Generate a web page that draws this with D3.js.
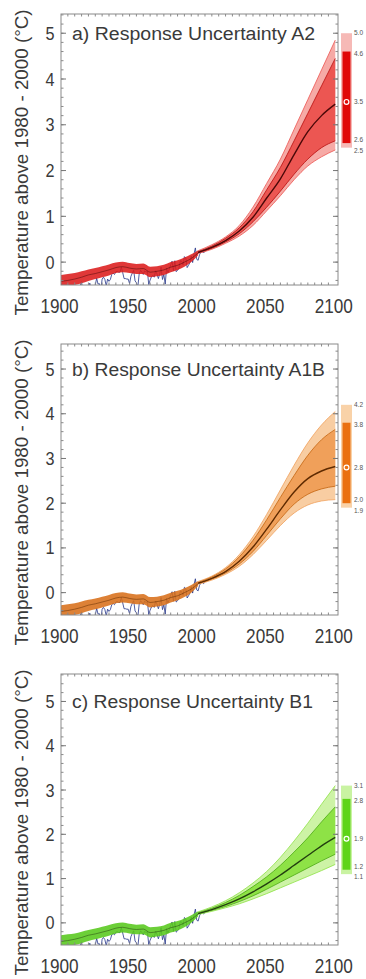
<!DOCTYPE html>
<html><head><meta charset="utf-8">
<script src="https://cdn.jsdelivr.net/npm/d3@7"></script>
<style>body{margin:0;background:#fff}svg{display:block}</style>
</head><body>
<svg id="c" width="366" height="979"></svg>
<script>
// ---------------- DATA ----------------
const panelKeys = ["a", "b", "c"];
const panelTitles = ["a)  Response Uncertainty A2", "b)  Response Uncertainty A1B", "c)  Response Uncertainty B1"];
const yLabel = "Temperature above 1980 - 2000 (°C)";
const xTicks = [1900, 1950, 2000, 2050, 2100];
const yTicks = [0, 1, 2, 3, 4, 5];
const yMax = [5.42, 5.56, 5.62];

// observations (annual, anomaly w.r.t. 1980-2000), starting 1900
const obsStart = 1900;
const obs = [-0.46,-0.53,-0.64,-0.71,-0.79,-0.63,-0.56,-0.74,-0.77,-0.76,
  -0.73,-0.77,-0.70,-0.69,-0.51,-0.43,-0.66,-0.75,-0.64,-0.57,
  -0.54,-0.46,-0.58,-0.55,-0.57,-0.50,-0.35,-0.48,-0.47,-0.62,
  -0.37,-0.33,-0.38,-0.52,-0.37,-0.42,-0.38,-0.27,-0.24,-0.27,
  -0.21,-0.20,-0.22,-0.22,-0.11,-0.23,-0.36,-0.36,-0.37,-0.37,
  -0.47,-0.31,-0.24,-0.18,-0.41,-0.45,-0.55,-0.26,-0.18,-0.22,
  -0.27,-0.19,-0.22,-0.20,-0.49,-0.39,-0.32,-0.29,-0.33,-0.19,
  -0.26,-0.36,-0.26,-0.11,-0.38,-0.27,-0.48,-0.13,-0.23,-0.15,
  -0.06,0.02,-0.19,0.03,-0.21,-0.18,-0.13,0.03,0.02,-0.06,
  0.12,0.09,-0.12,-0.07,-0.01,0.13,-0.01,0.18,0.31,0.06,
  0.04,0.16,0.22,0.23,0.20,0.24];

// historical model ensemble (every 5 years 1900-2000)
const histYears = [1900,1905,1910,1915,1920,1925,1930,1935,1940,1945,1950,1955,1960,1965,1970,1975,1980,1985,1990,1995,2000];
const histMean = [-0.42,-0.40,-0.37,-0.33,-0.28,-0.25,-0.21,-0.17,-0.12,-0.10,-0.13,-0.15,-0.14,-0.22,-0.20,-0.17,-0.11,-0.07,0.0,0.08,0.2];
const histHi = [-0.28,-0.26,-0.24,-0.20,-0.16,-0.13,-0.09,-0.05,-0.01,0.01,-0.02,-0.04,-0.03,-0.10,-0.09,-0.06,0.0,0.04,0.10,0.17,0.26];
const histLo = [-0.55,-0.53,-0.50,-0.46,-0.41,-0.37,-0.33,-0.29,-0.24,-0.22,-0.24,-0.26,-0.26,-0.33,-0.31,-0.28,-0.22,-0.17,-0.10,0.0,0.15];

// projections (every 10 years 2000-2100)
const projYears = [2000,2010,2020,2030,2040,2050,2060,2070,2080,2090,2100];
const a2OuterHi = [0.25,0.38,0.55,0.80,1.20,1.72,2.25,2.90,3.55,4.20,4.85];
const a2MidHi   = [0.23,0.35,0.52,0.75,1.10,1.58,2.07,2.65,3.25,3.85,4.45];
const a2Mean    = [0.21,0.32,0.47,0.68,0.98,1.40,1.82,2.35,2.85,3.20,3.45];
const a2MidLo   = [0.20,0.30,0.44,0.62,0.88,1.20,1.55,1.92,2.25,2.50,2.65];
const a2OuterLo = [0.19,0.28,0.41,0.57,0.80,1.12,1.45,1.80,2.10,2.30,2.45];

const a1bOuterHi = [0.25,0.37,0.56,0.85,1.25,1.75,2.30,2.85,3.35,3.75,4.05];
const a1bMidHi   = [0.23,0.35,0.53,0.80,1.17,1.63,2.13,2.62,3.07,3.42,3.65];
const a1bMean    = [0.21,0.32,0.47,0.70,1.02,1.42,1.85,2.25,2.55,2.72,2.82];
const a1bMidLo   = [0.20,0.30,0.44,0.64,0.92,1.28,1.65,1.98,2.20,2.32,2.38];
const a1bOuterLo = [0.19,0.28,0.41,0.59,0.85,1.17,1.50,1.78,1.96,2.05,2.08];

const b1OuterHi = [0.25,0.36,0.50,0.68,0.90,1.16,1.48,1.85,2.25,2.68,3.10];
const b1MidHi   = [0.23,0.33,0.46,0.62,0.82,1.04,1.30,1.60,1.92,2.28,2.62];
const b1Mean    = [0.21,0.30,0.41,0.54,0.70,0.88,1.08,1.30,1.52,1.74,1.93];
const b1MidLo   = [0.20,0.28,0.37,0.48,0.61,0.76,0.92,1.08,1.24,1.40,1.55];
const b1OuterLo = [0.19,0.26,0.34,0.43,0.54,0.66,0.79,0.92,1.05,1.18,1.32];

// 2100 range bars: [lightLo, darkLo, mean, darkHi, lightHi]
const barA2  = [2.5, 2.6, 3.5, 4.6, 5.0];
const barA1B = [1.9, 2.0, 2.8, 3.8, 4.2];
const barB1  = [1.1, 1.2, 1.9, 2.8, 3.1];

// ---------------- STYLE / LAYOUT ----------------
const proj = [
  {outerHi:a2OuterHi, midHi:a2MidHi, mean:a2Mean, midLo:a2MidLo, outerLo:a2OuterLo, bar:barA2},
  {outerHi:a1bOuterHi, midHi:a1bMidHi, mean:a1bMean, midLo:a1bMidLo, outerLo:a1bOuterLo, bar:barA1B},
  {outerHi:b1OuterHi, midHi:b1MidHi, mean:b1Mean, midLo:b1MidLo, outerLo:b1OuterLo, bar:barB1}
];
const colors = [
  {outer:"#f6aaa6", mid:"#ec5652", hist:"#dc1c1c", line:"#b80e0e", mean:"#4a0808", barL:"#f6b9b6", barD:"#e00808"},
  {outer:"#f8cda2", mid:"#f0a05a", hist:"#d8701a", line:"#c4640f", mean:"#5e2a00", barL:"#f9d2a8", barD:"#ea7010"},
  {outer:"#cdf3a6", mid:"#8ee246", hist:"#58c81c", line:"#4aa812", mean:"#233f10", barL:"#c9f3a2", barD:"#5ed418"}
];
const plotTops = [14, 344, 674];
const plotH = 271, plotL = 61, plotR = 338;
const font = "Arial, 'Liberation Sans', sans-serif";

const svg = d3.select("#c");
const defs = svg.append("defs");

panelKeys.forEach((k, i) => {
  const top = plotTops[i], bottom = top + plotH;
  const P = proj[i], C = colors[i];
  const x = d3.scaleLinear().domain([1900, 2102]).range([plotL, plotR]);
  const y = d3.scaleLinear().domain([-0.5, yMax[i]]).range([bottom, top]);
  const g = svg.append("g");

  defs.append("clipPath").attr("id", "clip" + k)
    .append("rect").attr("x", plotL).attr("y", top).attr("width", plotR - plotL).attr("height", plotH);
  const pg = g.append("g").attr("clip-path", `url(#clip${k})`);

  const area = (lo, hi, yrs) => d3.area().curve(d3.curveMonotoneX)
    .x((d, j) => x(yrs[j])).y0((d, j) => y(lo[j])).y1((d, j) => y(hi[j]))(yrs);
  const line = (vals, yrs) => d3.line().curve(d3.curveMonotoneX)
    .x((d, j) => x(yrs[j])).y((d, j) => y(vals[j]))(yrs);

  // observations (under the model band)
  const obsYears = obs.map((d, j) => obsStart + j);
  pg.append("path").attr("d", d3.line().x((d, j) => x(obsYears[j])).y(d => y(d))(obs))
    .attr("fill", "none").attr("stroke", "#26368a").attr("stroke-width", 1).attr("opacity", 0.8);
  // historical band
  pg.append("path").attr("d", area(histLo, histHi, histYears)).attr("fill", C.hist).attr("opacity", 0.88);
  pg.append("path").attr("d", line(histMean, histYears)).attr("fill", "none").attr("stroke", C.mean).attr("stroke-width", 1).attr("opacity", 0.5);
  // projections
  pg.append("path").attr("d", area(P.outerLo, P.outerHi, projYears)).attr("fill", C.outer);
  pg.append("path").attr("d", area(P.midLo, P.midHi, projYears)).attr("fill", C.mid);
  [P.outerHi, P.midHi, P.midLo, P.outerLo].forEach((v, j) => {
    pg.append("path").attr("d", line(v, projYears)).attr("fill", "none")
      .attr("stroke", j === 0 || j === 3 ? C.mid : C.line).attr("stroke-width", 0.8);
  });
  pg.append("path").attr("d", line(P.mean, projYears)).attr("fill", "none").attr("stroke", C.mean).attr("stroke-width", 1.4);

  // frame
  g.append("rect").attr("x", plotL).attr("y", top).attr("width", plotR - plotL).attr("height", plotH)
    .attr("fill", "none").attr("stroke", "#8a8a8a").attr("stroke-width", 1);
  // minor ticks
  const minorX = d3.range(1905, 2100, 5);
  minorX.forEach(v => {
    g.append("line").attr("x1", x(v)).attr("x2", x(v)).attr("y1", top).attr("y2", top + 2.5).attr("stroke", "#8a8a8a");
    g.append("line").attr("x1", x(v)).attr("x2", x(v)).attr("y1", bottom).attr("y2", bottom - 2.5).attr("stroke", "#8a8a8a");
  });
  const minorY = d3.range(-0.4, yMax[i], 0.2);
  minorY.forEach(v => {
    g.append("line").attr("x1", plotL).attr("x2", plotL + 2.5).attr("y1", y(v)).attr("y2", y(v)).attr("stroke", "#8a8a8a");
    g.append("line").attr("x1", plotR).attr("x2", plotR - 2.5).attr("y1", y(v)).attr("y2", y(v)).attr("stroke", "#8a8a8a");
  });
  yTicks.forEach(v => {
    g.append("line").attr("x1", plotL).attr("x2", plotL + 5).attr("y1", y(v)).attr("y2", y(v)).attr("stroke", "#777");
    g.append("line").attr("x1", plotR).attr("x2", plotR - 5).attr("y1", y(v)).attr("y2", y(v)).attr("stroke", "#777");
  });

  // tick labels
  xTicks.forEach(v => {
    g.append("text").attr("transform", `translate(${x(v) - 1.5},${bottom + 28}) scale(0.86,1)`)
      .attr("text-anchor", "middle").attr("font-family", font).attr("font-size", 20).attr("fill", "#3a3a3a").text(v);
  });
  yTicks.forEach(v => {
    g.append("text").attr("transform", `translate(${plotL - 11},${y(v) + 6.5}) scale(0.9,1)`)
      .attr("text-anchor", "middle").attr("font-family", font).attr("font-size", 18).attr("fill", "#3a3a3a").text(v);
  });
  // title
  g.append("text").attr("x", 72).attr("y", y(5) + 6.5).attr("font-family", font).attr("font-size", 18)
    .attr("fill", "#3a3a3a").attr("textLength", i === 1 ? 253 : (i === 0 ? 243 : 241)).attr("lengthAdjust", "spacingAndGlyphs")
    .text(panelTitles[i]);
  // y label
  g.append("text").attr("transform", `translate(${28},${(top + bottom) / 2 + 13}) rotate(-90)`)
    .attr("text-anchor", "middle").attr("font-family", font).attr("font-size", 18).attr("fill", "#3a3a3a")
    .attr("textLength", 306).attr("lengthAdjust", "spacingAndGlyphs").text(yLabel);

  // 2100 range bar
  const b = P.bar;
  g.append("rect").attr("x", 341).attr("width", 11).attr("y", y(b[4])).attr("height", y(b[0]) - y(b[4])).attr("fill", C.barL);
  g.append("rect").attr("x", 342.5).attr("width", 8).attr("y", y(b[3])).attr("height", y(b[1]) - y(b[3])).attr("fill", C.barD);
  g.append("circle").attr("cx", 346.5).attr("cy", y(b[2])).attr("r", 2.4).attr("fill", C.barD).attr("stroke", "#fff").attr("stroke-width", 1.2);
  const labelY = [y(b[0]) + 5, y(b[1]) - 1, y(b[2]) + 2.5, y(b[3]) + 4, y(b[4]) + 2];
  b.forEach((v, j) => {
    g.append("text").attr("x", 354).attr("y", labelY[j]).attr("font-family", font).attr("font-size", 6.5)
      .attr("fill", "#555").text(d3.format(".1f")(v));
  });
});
</script>
</body></html>
